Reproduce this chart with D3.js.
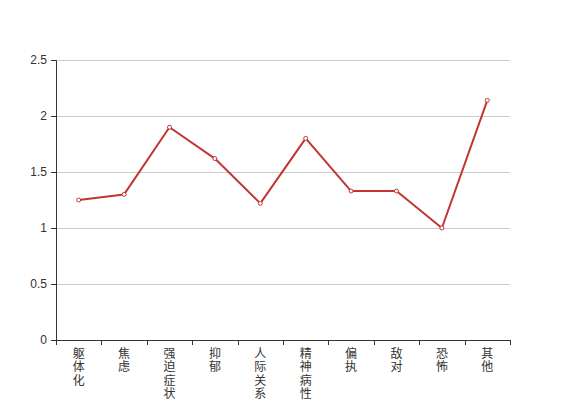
<!DOCTYPE html>
<html>
<head>
<meta charset="utf-8">
<script src="https://cdn.jsdelivr.net/npm/d3@7"></script>
<style>
  body { margin: 0; background: #fff; }
  text { font-family: "Noto Sans CJK SC", "Noto Sans", sans-serif; }
</style>
</head>
<body>
<svg id="chart" width="567" height="400"></svg>
<script>
const categories = ["躯体化", "焦虑", "强迫症状", "抑郁", "人际关系敏感", "精神病性", "偏执", "敌对", "恐怖", "其他"];
const values = [1.25, 1.30, 1.90, 1.62, 1.22, 1.80, 1.33, 1.33, 1.00, 2.14];
const yTicks = [0, 0.5, 1, 1.5, 2, 2.5];

const svg = d3.select("#chart");
const margin = {top: 60, right: 57, bottom: 60, left: 56};
const width = 567 - margin.left - margin.right;
const height = 400 - margin.top - margin.bottom;

const g = svg.append("g").attr("transform", `translate(${margin.left},${margin.top})`);

const x = d3.scaleBand().domain(categories).range([0, width]);
const y = d3.scaleLinear().domain([0, 2.5]).range([height, 0]);

// grid lines
g.append("g")
  .selectAll("line")
  .data(yTicks.filter(d => d > 0))
  .join("line")
  .attr("x1", 0).attr("x2", width)
  .attr("y1", d => Math.round(y(d)) + 0.5).attr("y2", d => Math.round(y(d)) + 0.5)
  .attr("stroke", "#ccc");

// y axis
const yAxis = g.append("g")
  .call(d3.axisLeft(y).tickValues(yTicks).tickFormat(d => d).tickSize(5).tickPadding(4));
yAxis.select(".domain").attr("stroke", "#333");
yAxis.selectAll(".tick line").attr("stroke", "#333");
yAxis.selectAll(".tick text").attr("fill", "#333").style("font-size", "12px")
  .style("font-family", "'Liberation Sans', 'DejaVu Sans', sans-serif");

// x axis
const xAxis = g.append("g").attr("transform", `translate(0,${height})`);
xAxis.append("line")
  .attr("x1", 0).attr("x2", width).attr("y1", 0.5).attr("y2", 0.5)
  .attr("stroke", "#333");
const bounds = categories.map(c => x(c)).concat([width]);
xAxis.selectAll("line.tick")
  .data(bounds)
  .join("line")
  .attr("class", "tick")
  .attr("x1", d => Math.round(d) + 0.5).attr("x2", d => Math.round(d) + 0.5)
  .attr("y1", 0).attr("y2", 5)
  .attr("stroke", "#333");

xAxis.selectAll("text.cat")
  .data(categories)
  .join("text")
  .attr("class", "cat")
  .attr("fill", "#333")
  .style("font-size", "12px")
  .attr("text-anchor", "middle")
  .each(function(d) {
    const t = d3.select(this);
    const cx = x(d) + x.bandwidth() / 2;
    Array.from(d).forEach((ch, i) => {
      t.append("tspan").attr("x", cx).attr("y", 18 + i * 13.3).text(ch);
    });
  });

// line
const line = d3.line()
  .x((d, i) => x(categories[i]) + x.bandwidth() / 2)
  .y(d => y(d));

g.append("path")
  .datum(values)
  .attr("fill", "none")
  .attr("stroke", "#c23531")
  .attr("stroke-width", 2)
  .attr("stroke-linejoin", "bevel")
  .attr("d", line);

g.selectAll("circle.pt")
  .data(values)
  .join("circle")
  .attr("class", "pt")
  .attr("cx", (d, i) => x(categories[i]) + x.bandwidth() / 2)
  .attr("cy", d => y(d))
  .attr("r", 2)
  .attr("fill", "#fff")
  .attr("stroke", "#c23531")
  .attr("stroke-width", 1);
</script>
</body>
</html>
